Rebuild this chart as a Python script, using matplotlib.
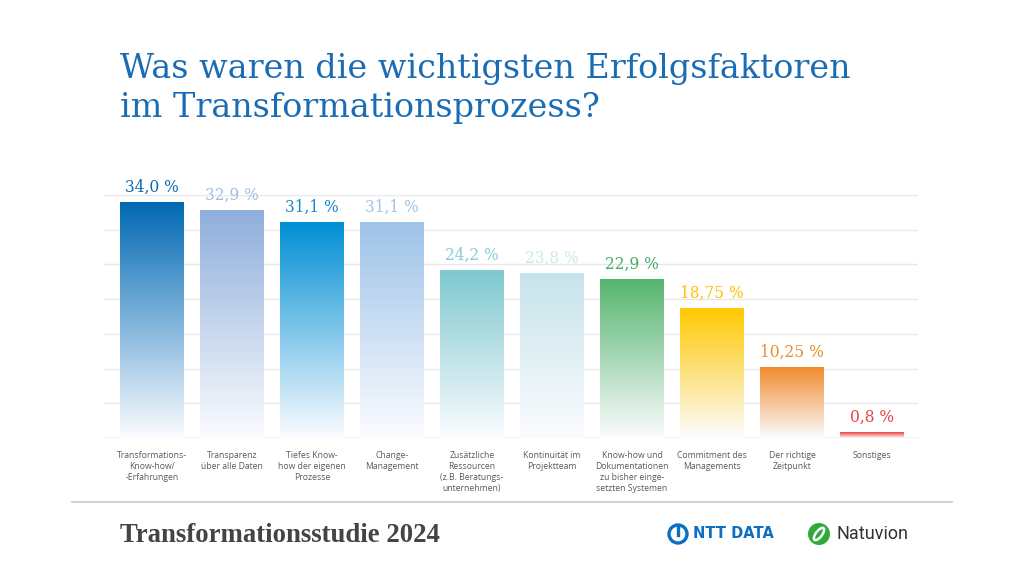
import numpy as np
import matplotlib.pyplot as plt
from matplotlib.colors import to_rgb
from matplotlib.patches import Ellipse

categories = [
    "Transformations-\nKnow-how/\n-Erfahrungen",
    "Transparenz\nüber alle Daten",
    "Tiefes Know-\nhow der eigenen\nProzesse",
    "Change-\nManagement",
    "Zusätzliche\nRessourcen\n(z.B. Beratungs-\nunternehmen)",
    "Kontinuität im\nProjektteam",
    "Know-how und\nDokumentationen\nzu bisher einge-\nsetzten Systemen",
    "Commitment des\nManagements",
    "Der richtige\nZeitpunkt",
    "Sonstiges",
]
values = [34.0, 32.9, 31.1, 31.1, 24.2, 23.8, 22.9, 18.75, 10.25, 0.8]
value_labels = ["34,0 %", "32,9 %", "31,1 %", "31,1 %", "24,2 %",
                "23,8 %", "22,9 %", "18,75 %", "10,25 %", "0,8 %"]
bar_colors = ["#0068b4", "#8eaedb", "#008fd3", "#9dc3e8", "#7ec8cf",
              "#c6e4ea", "#55b56e", "#ffc800", "#f08a2c", "#e84040"]
label_colors = ["#0a6ab5", "#a3bde3", "#1389cf", "#9cc4ea", "#86cdd6",
                "#cde7ec", "#4aac63", "#ffc000", "#ee8a2e", "#e8403d"]

fig = plt.figure(figsize=(10.24, 5.76), dpi=100)
ax = fig.add_axes([104 / 1024, 1 - 438 / 576, 814 / 1024, 243 / 576])

x = np.arange(len(values))
width = 0.8
bars = ax.bar(x, values, width, color="none", zorder=3)

# vertical gradient from bar colour to near white
bottom = np.array(to_rgb("#fbfcff"))
for bar, c in zip(bars, bar_colors):
    top = np.array(to_rgb(c))
    t = np.linspace(0, 1, 256)[:, None]
    grad = top * (1 - t) + bottom * t
    img = grad[:, None, :]
    bx = bar.get_x()
    h = bar.get_height()
    im = ax.imshow(img, extent=[bx, bx + width, 0, h], aspect="auto",
                   origin="upper", zorder=3)
    im.set_clip_path(bar)

for xi, v, lab, lc in zip(x, values, value_labels, label_colors):
    ax.text(xi, v + 0.9, lab, ha="center", va="bottom", fontsize=11.2,
            color=lc, family="DejaVu Serif", clip_on=False)

ax.set_xlim(-0.6, 9.575)
ax.set_ylim(0, 35)
ax.set_yticks(np.arange(0, 36, 5))
ax.yaxis.grid(True, color="#e8e8e8", linewidth=1)
ax.axhline(0, color="#d5d5d5", linewidth=1, zorder=2)
for s in ax.spines.values():
    s.set_visible(False)
ax.tick_params(left=False, bottom=False, labelleft=False)
ax.set_xticks(x)
ax.set_xticklabels(categories, fontsize=6.2, color="#5a5a5a",
                   family="Open Sans", linespacing=1.3)
ax.tick_params(axis="x", pad=6)

fig.text(120 / 1024, 1 - 117 / 576,
         "Was waren die wichtigsten Erfolgsfaktoren\nim Transformationsprozess?",
         ha="left", va="baseline", fontsize=24, color="#1a6cb5",
         family="DejaVu Serif", linespacing=1.28)

fig.add_artist(plt.Line2D([72 / 1024, 952 / 1024], [1 - 502 / 576] * 2,
                          color="#c8c8c8", linewidth=1.2))
fig.text(120 / 1024, 1 - 535 / 576, "Transformationsstudie 2024",
         ha="left", va="center", fontsize=19.3, color="#444444",
         family="Liberation Serif", weight="bold")

# logos
cy = 1 - 534 / 576
fig.add_artist(Ellipse((678 / 1024, cy), 18 / 1024, 18 / 576,
                       transform=fig.transFigure, fill=False,
                       edgecolor="#0a6fc2", linewidth=2.4))
fig.add_artist(plt.Line2D([678 / 1024] * 2, [cy - 1 / 576, cy + 7 / 576],
                          color="#0a6fc2", linewidth=2.4))
fig.text(693 / 1024, cy, "NTT DATA", ha="left", va="center",
         fontsize=10.5, color="#0a6fc2", weight="bold", family="DejaVu Sans")
fig.add_artist(Ellipse((819 / 1024, cy), 22 / 1024, 22 / 576,
                       transform=fig.transFigure, facecolor="#2eaa3a",
                       edgecolor="none"))
fig.add_artist(Ellipse((819 / 1024, cy), 7 / 1024, 13 / 576, angle=-20,
                       transform=fig.transFigure, facecolor="none",
                       edgecolor="white", linewidth=1.8))
fig.text(836 / 1024, cy, "Natuvion", ha="left", va="center",
         fontsize=13, color="#333333", family="Roboto")

fig.savefig("out.png", dpi=100)
